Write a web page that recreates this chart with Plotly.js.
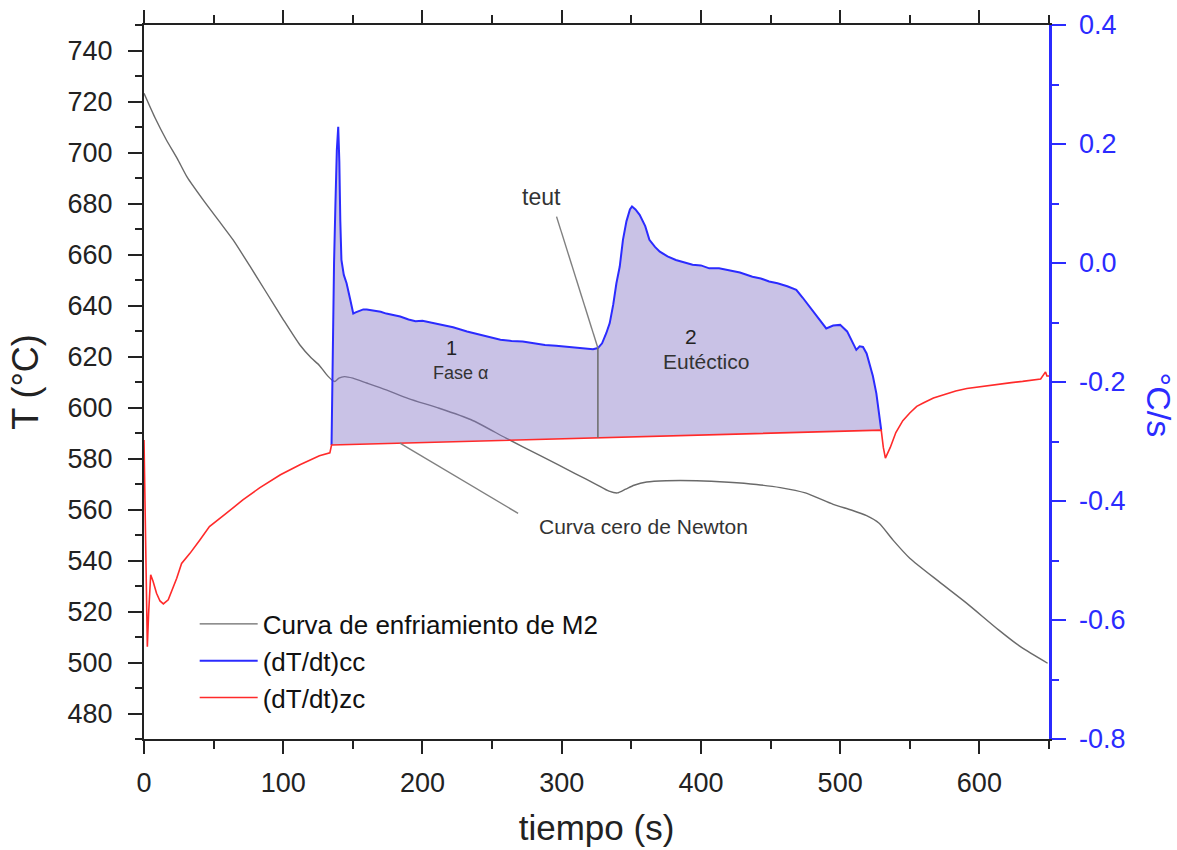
<!DOCTYPE html>
<html>
<head>
<meta charset="utf-8">
<script src="https://cdn.plot.ly/plotly-3.0.1.min.js"></script>
<style>
  html, body { margin: 0; padding: 0; background: #fff; }
  #chart { width: 1177px; height: 850px; }
</style>
</head>
<body>
<div id="chart"></div>
<script>
// Cooling curve of alloy M2: time (s) and temperature (°C)
const coolTime = [0, 8, 16, 24, 31, 43, 55, 64, 76, 88, 100, 112, 120, 126, 131, 135, 137, 140, 144, 150,
  160, 174, 190, 212, 235, 260, 285, 310, 325, 334, 340, 346, 352, 361, 375, 397, 420, 440, 457, 475,
  495, 508, 519, 528, 538, 550, 571, 591, 614, 630, 649];
const coolTemp = [723.2, 713.5, 705, 697.5, 690.3, 681, 672.3, 665.7, 655.5, 645, 634.5, 624.5, 619.5, 616.5, 613, 610.8, 610.2, 611.5, 612.1, 611.5,
  609.6, 606.9, 603.5, 599.7, 595.2, 588, 581, 574, 569.8, 567.2, 566.5, 568, 569.5, 570.8, 571.3, 571.3, 570.7, 569.8, 568.6, 566.5,
  562, 559.8, 557.6, 554.6, 548, 540.9, 531.7, 523.2, 512.7, 506, 499.7];

// First derivative of the cooling curve, (dT/dt)cc, °C/s
const ccTime = [134.7, 135.5, 136.5, 137.5, 138.5, 139.5, 140.3, 141, 141.8, 143.5, 145.5, 148, 150.3, 152, 155, 157.5, 160, 165, 170, 174,
  180, 184, 190, 195, 200, 208, 215, 222, 232, 240, 248, 256, 264, 272, 280, 288, 296, 304, 312, 318,
  322.5, 326, 329, 332, 334.5, 337, 339.3, 341.7, 344, 346.5, 349, 350.5, 353, 356, 360, 363, 367, 370.5, 376, 382,
  388, 394, 400, 406, 413, 420, 428, 437, 443, 449, 455, 462, 468.5, 473, 478, 484, 490, 495, 500, 505,
  508, 511.6, 514, 516.4, 519, 521.2, 523.5, 526, 528, 529.5];
const ccRate = [-0.306, -0.15, 0.0, 0.10, 0.19, 0.229, 0.17, 0.07, 0.005, -0.02, -0.034, -0.06, -0.085, -0.083, -0.08, -0.078, -0.078, -0.08, -0.082, -0.085,
  -0.088, -0.09, -0.095, -0.098, -0.097, -0.101, -0.105, -0.108, -0.115, -0.12, -0.124, -0.129, -0.131, -0.132, -0.135, -0.138, -0.139, -0.141, -0.143, -0.144,
  -0.145, -0.143, -0.135, -0.118, -0.101, -0.07, -0.034, -0.006, 0.039, 0.07, 0.09, 0.095, 0.09, 0.081, 0.062, 0.039, 0.027, 0.019, 0.011, 0.005,
  0.001, -0.003, -0.004, -0.009, -0.009, -0.012, -0.016, -0.023, -0.026, -0.031, -0.034, -0.039, -0.045, -0.058, -0.073, -0.09, -0.11, -0.105, -0.104, -0.115,
  -0.128, -0.146, -0.14, -0.141, -0.152, -0.169, -0.19, -0.219, -0.25, -0.281];

// Newton zero curve, (dT/dt)zc: before solidification, the baseline segment, and after
const zcEarlyTime = [0, 0.8, 1.6, 2.4, 3.3, 4.8, 6.5, 9, 11.5, 13.9, 17.4, 21, 23.5, 27, 33, 40, 47, 59, 71, 83, 98, 112, 126, 133.5];
const zcEarlyRate = [-0.2975, -0.42, -0.56, -0.645, -0.59, -0.524, -0.535, -0.555, -0.568, -0.573, -0.566, -0.544, -0.53, -0.505, -0.488, -0.466, -0.443, -0.421, -0.398, -0.378, -0.356, -0.339, -0.324, -0.319];
const baseTime = [134.7, 529.5];
const baseRate = [-0.306, -0.281];
const zcLateTime = [531, 532.5, 536, 540, 545, 550, 555, 560, 567, 575, 583, 591, 600, 607, 615, 623, 631, 638, 644, 647.5, 648.5, 650];
const zcLateRate = [-0.31, -0.328, -0.31, -0.285, -0.265, -0.252, -0.241, -0.235, -0.227, -0.221, -0.215, -0.211, -0.208, -0.206, -0.203, -0.201, -0.199, -0.197, -0.195, -0.183, -0.19, -0.19];

// Eutectic start time (s)
const tEut = 326;

// Axis ticks
const rateTicks = [-0.8, -0.6, -0.4, -0.2, 0.0, 0.2, 0.4];
const rateTickText = ['-0.8', '-0.6', '-0.4', '-0.2', '0.0', '0.2', '0.4'];

const zcTime = zcEarlyTime.concat(baseTime, zcLateTime);
const zcRate = zcEarlyRate.concat(baseRate, zcLateRate);

function interp(xs, ys, x) {
  for (let i = 1; i < xs.length; i++) {
    if (x <= xs[i]) {
      const f = (x - xs[i - 1]) / (xs[i] - xs[i - 1]);
      return ys[i - 1] + f * (ys[i] - ys[i - 1]);
    }
  }
  return ys[ys.length - 1];
}
const eutTop = interp(ccTime, ccRate, tEut);
const eutBottom = interp(baseTime, baseRate, tEut);

const BLUE = '#2b2bff';
const RED = '#ff2a2a';
const INK = '#222222';
const FONT = 'Liberation Sans, Arial, sans-serif';

const traces = [
  {
    name: 'Curva de enfriamiento de M2',
    x: coolTime, y: coolTemp, xaxis: 'x', yaxis: 'y',
    mode: 'lines', line: { color: '#6a6a6a', width: 1.4, shape: 'spline', smoothing: 0.6 },
    hoverinfo: 'skip'
  },
  {
    x: baseTime, y: baseRate, xaxis: 'x', yaxis: 'y2',
    mode: 'lines', line: { width: 0, color: RED },
    showlegend: false, hoverinfo: 'skip'
  },
  {
    x: ccTime, y: ccRate, xaxis: 'x', yaxis: 'y2',
    mode: 'lines', line: { width: 0, color: BLUE },
    fill: 'tonexty', fillcolor: 'rgba(135,120,200,0.45)',
    showlegend: false, hoverinfo: 'skip'
  },
  {
    name: '(dT/dt)cc',
    x: ccTime, y: ccRate, xaxis: 'x', yaxis: 'y2',
    mode: 'lines', line: { color: BLUE, width: 2 },
    hoverinfo: 'skip'
  },
  {
    name: '(dT/dt)zc',
    x: zcTime, y: zcRate, xaxis: 'x', yaxis: 'y2',
    mode: 'lines', line: { color: RED, width: 1.6 },
    hoverinfo: 'skip'
  }
];

const tickCommon = {
  showgrid: false, zeroline: false, showline: true,
  linewidth: 2, tickwidth: 2
};

const layout = {
  width: 1177, height: 850,
  margin: { l: 144, r: 128, t: 25, b: 111 },
  paper_bgcolor: '#ffffff', plot_bgcolor: '#ffffff',
  font: { family: FONT, color: INK },
  showlegend: true,
  legend: {
    x: 0.056, y: 0.194, xanchor: 'left', yanchor: 'top',
    traceorder: 'normal',
    bgcolor: 'rgba(0,0,0,0)', borderwidth: 0,
    font: { size: 26, color: '#111' },
    itemwidth: 58, tracegroupgap: 0
  },
  xaxis: Object.assign({}, tickCommon, {
    range: [0, 650], linecolor: INK, tickcolor: INK, mirror: 'ticks',
    ticks: 'outside', ticklen: 13, dtick: 100, tick0: 0,
    minor: { dtick: 50, ticks: 'outside', ticklen: 8, tickwidth: 2, tickcolor: INK },
    tickfont: { size: 27, color: INK }, ticklabelstandoff: 6,
    title: { text: 'tiempo (s)', font: { size: 35, color: INK }, standoff: 18 }
  }),
  yaxis: Object.assign({}, tickCommon, {
    range: [470, 750], linecolor: INK, tickcolor: INK,
    ticks: 'outside', ticklen: 14, dtick: 20, tick0: 0,
    minor: { dtick: 10, ticks: 'outside', ticklen: 7, tickwidth: 2, tickcolor: INK },
    tickfont: { size: 27, color: INK }, ticklabelstandoff: 10,
    title: { text: 'T (°C)', font: { size: 36, color: INK }, standoff: 18 }
  }),
  yaxis2: Object.assign({}, tickCommon, {
    overlaying: 'y', side: 'right', anchor: 'x',
    range: [-0.8, 0.4], linecolor: BLUE, tickcolor: BLUE, linewidth: 2.5,
    ticks: 'outside', ticklen: 14,
    tickmode: 'array', tickvals: rateTicks, ticktext: rateTickText,
    minor: { dtick: 0.1, tick0: 0, ticks: 'outside', ticklen: 7, tickwidth: 2, tickcolor: BLUE },
    tickfont: { size: 27, color: BLUE }, ticklabelstandoff: 8
  }),
  shapes: [
    // vertical marker at the eutectic start, from the cc curve to the baseline
    { type: 'line', xref: 'x', yref: 'y2', x0: tEut, x1: tEut, y0: eutTop, y1: eutBottom,
      line: { color: '#707070', width: 1.6 } },
    // leader from the "teut" label
    { type: 'line', xref: 'x', yref: 'y2', x0: 296.3, y0: 0.078, x1: tEut, y1: eutTop,
      line: { color: '#808080', width: 1.4 } },
    // leader from the Newton zero-curve label
    { type: 'line', xref: 'x', yref: 'y2', x0: 183.8, y0: interp(baseTime, baseRate, 183.8), x1: 268.7, y1: -0.4207,
      line: { color: '#808080', width: 1.4 } }
  ],
  annotations: [
    { text: '°C/s', xref: 'paper', yref: 'paper', x: 1.1215, y: 0.467, textangle: 90,
      showarrow: false, xanchor: 'center', yanchor: 'middle', font: { size: 34, color: BLUE } },
    { text: 'teut', xref: 'x', yref: 'y2', x: 285.5, y: 0.1114, showarrow: false,
      font: { size: 23, color: '#333' } },
    { text: 'Curva cero de Newton', xref: 'x', yref: 'y2', x: 359, y: -0.443, showarrow: false,
      font: { size: 21, color: '#333' } },
    { text: '1', xref: 'x', yref: 'y2', x: 220.6, y: -0.1434, showarrow: false,
      font: { size: 20, color: '#222' } },
    { text: 'Fase α', xref: 'x', yref: 'y2', x: 227.4, y: -0.1844, showarrow: false,
      font: { size: 18, color: '#333' } },
    { text: '2', xref: 'x', yref: 'y2', x: 393.2, y: -0.1239, showarrow: false,
      font: { size: 21, color: '#222' } },
    { text: 'Eutéctico', xref: 'x', yref: 'y2', x: 403.7, y: -0.166, showarrow: false,
      font: { size: 21, color: '#333' } }
  ]
};

Plotly.newPlot('chart', traces, layout, { displayModeBar: false, staticPlot: true });
</script>
</body>
</html>
